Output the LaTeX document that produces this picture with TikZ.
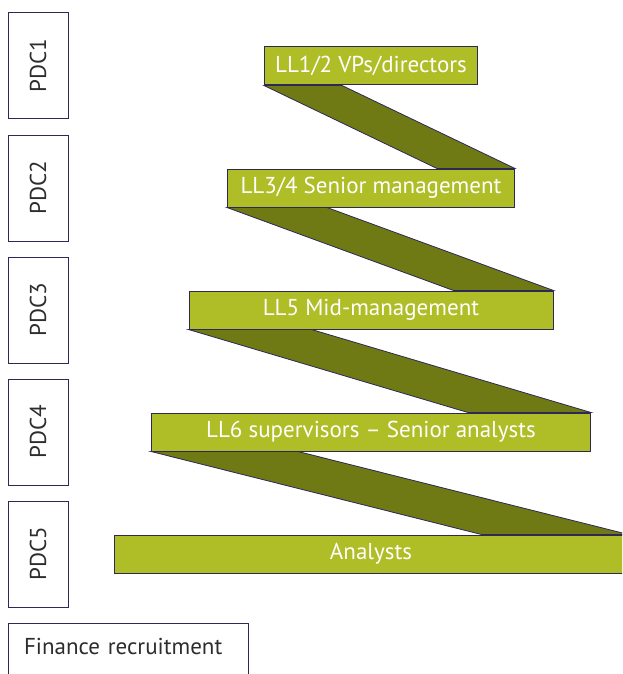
\documentclass[tikz,border=0pt]{standalone}
\usepackage{fontspec}
\setmainfont{PT Sans}
\usepackage{graphicx}
\usetikzlibrary{positioning}
\definecolor{barlime}{RGB}{175,189,38}
\definecolor{barolive}{RGB}{111,122,21}
\definecolor{edgenavy}{RGB}{45,40,85}
\definecolor{textgrey}{RGB}{45,45,45}

\begin{document}
\begin{tikzpicture}[x=1pt, y=-1pt,
  pdcbox/.style={rectangle, draw=edgenavy, line width=1pt, minimum width=60pt, minimum height=106pt, inner sep=0pt, text=textgrey, font=\fontsize{23}{26}\selectfont},
  levelbar/.style={rectangle, draw=edgenavy, line width=1pt, fill=barlime, minimum height=38pt, inner sep=0pt, text=white, font=\fontsize{23}{26}\selectfont},
  ribbon/.style={draw=edgenavy, line width=0.8pt, fill=barolive},
  node distance=15pt
]
\useasboundingbox (0,0) rectangle (622,674);
\clip (0,0) rectangle (622,674);

\node[pdcbox] at (38,66) (pdc1) {\rotatebox{90}{PDC1}};
\node[pdcbox, below=of pdc1] (pdc2) {\rotatebox{90}{PDC2}};
\node[pdcbox, below=of pdc2] (pdc3) {\rotatebox{90}{PDC3}};
\node[pdcbox, below=of pdc3] (pdc4) {\rotatebox{90}{PDC4}};
\node[pdcbox, below=of pdc4] (pdc5) {\rotatebox{90}{PDC5}};
\node[pdcbox, below=of pdc5.south west, anchor=north west, minimum width=240pt, minimum height=60pt, text depth=14pt, inner xsep=16pt, text width=208pt, align=left] (finance) {Finance recruitment};

\node[levelbar, minimum width=213pt] at (371,66) (ll12) {LL1/2 VPs/directors};
\node[levelbar, minimum width=287pt, below=83pt of ll12] (ll34) {LL3/4 Senior management};
\node[levelbar, minimum width=364pt, below=83pt of ll34] (ll5) {LL5 Mid-management};
\node[levelbar, minimum width=439pt, below=83pt of ll5] (ll6) {LL6 supervisors -- Senior analysts};
\node[levelbar, minimum width=514pt, below=83pt of ll6] (analysts) {Analysts};

\draw[ribbon] (ll12.south west) -- ([xshift=78pt]ll12.south west) -- (ll34.north east) -- ([xshift=-78pt]ll34.north east) -- cycle;
\draw[ribbon] (ll34.south west) -- ([xshift=100pt]ll34.south west) -- (ll5.north east) -- ([xshift=-100pt]ll5.north east) -- cycle;
\draw[ribbon] (ll5.south west) -- ([xshift=123pt]ll5.south west) -- (ll6.north east) -- ([xshift=-123pt]ll6.north east) -- cycle;
\draw[ribbon] (ll6.south west) -- ([xshift=147pt]ll6.south west) -- (analysts.north east) -- ([xshift=-147pt]analysts.north east) -- cycle;
\end{tikzpicture}
\end{document}
